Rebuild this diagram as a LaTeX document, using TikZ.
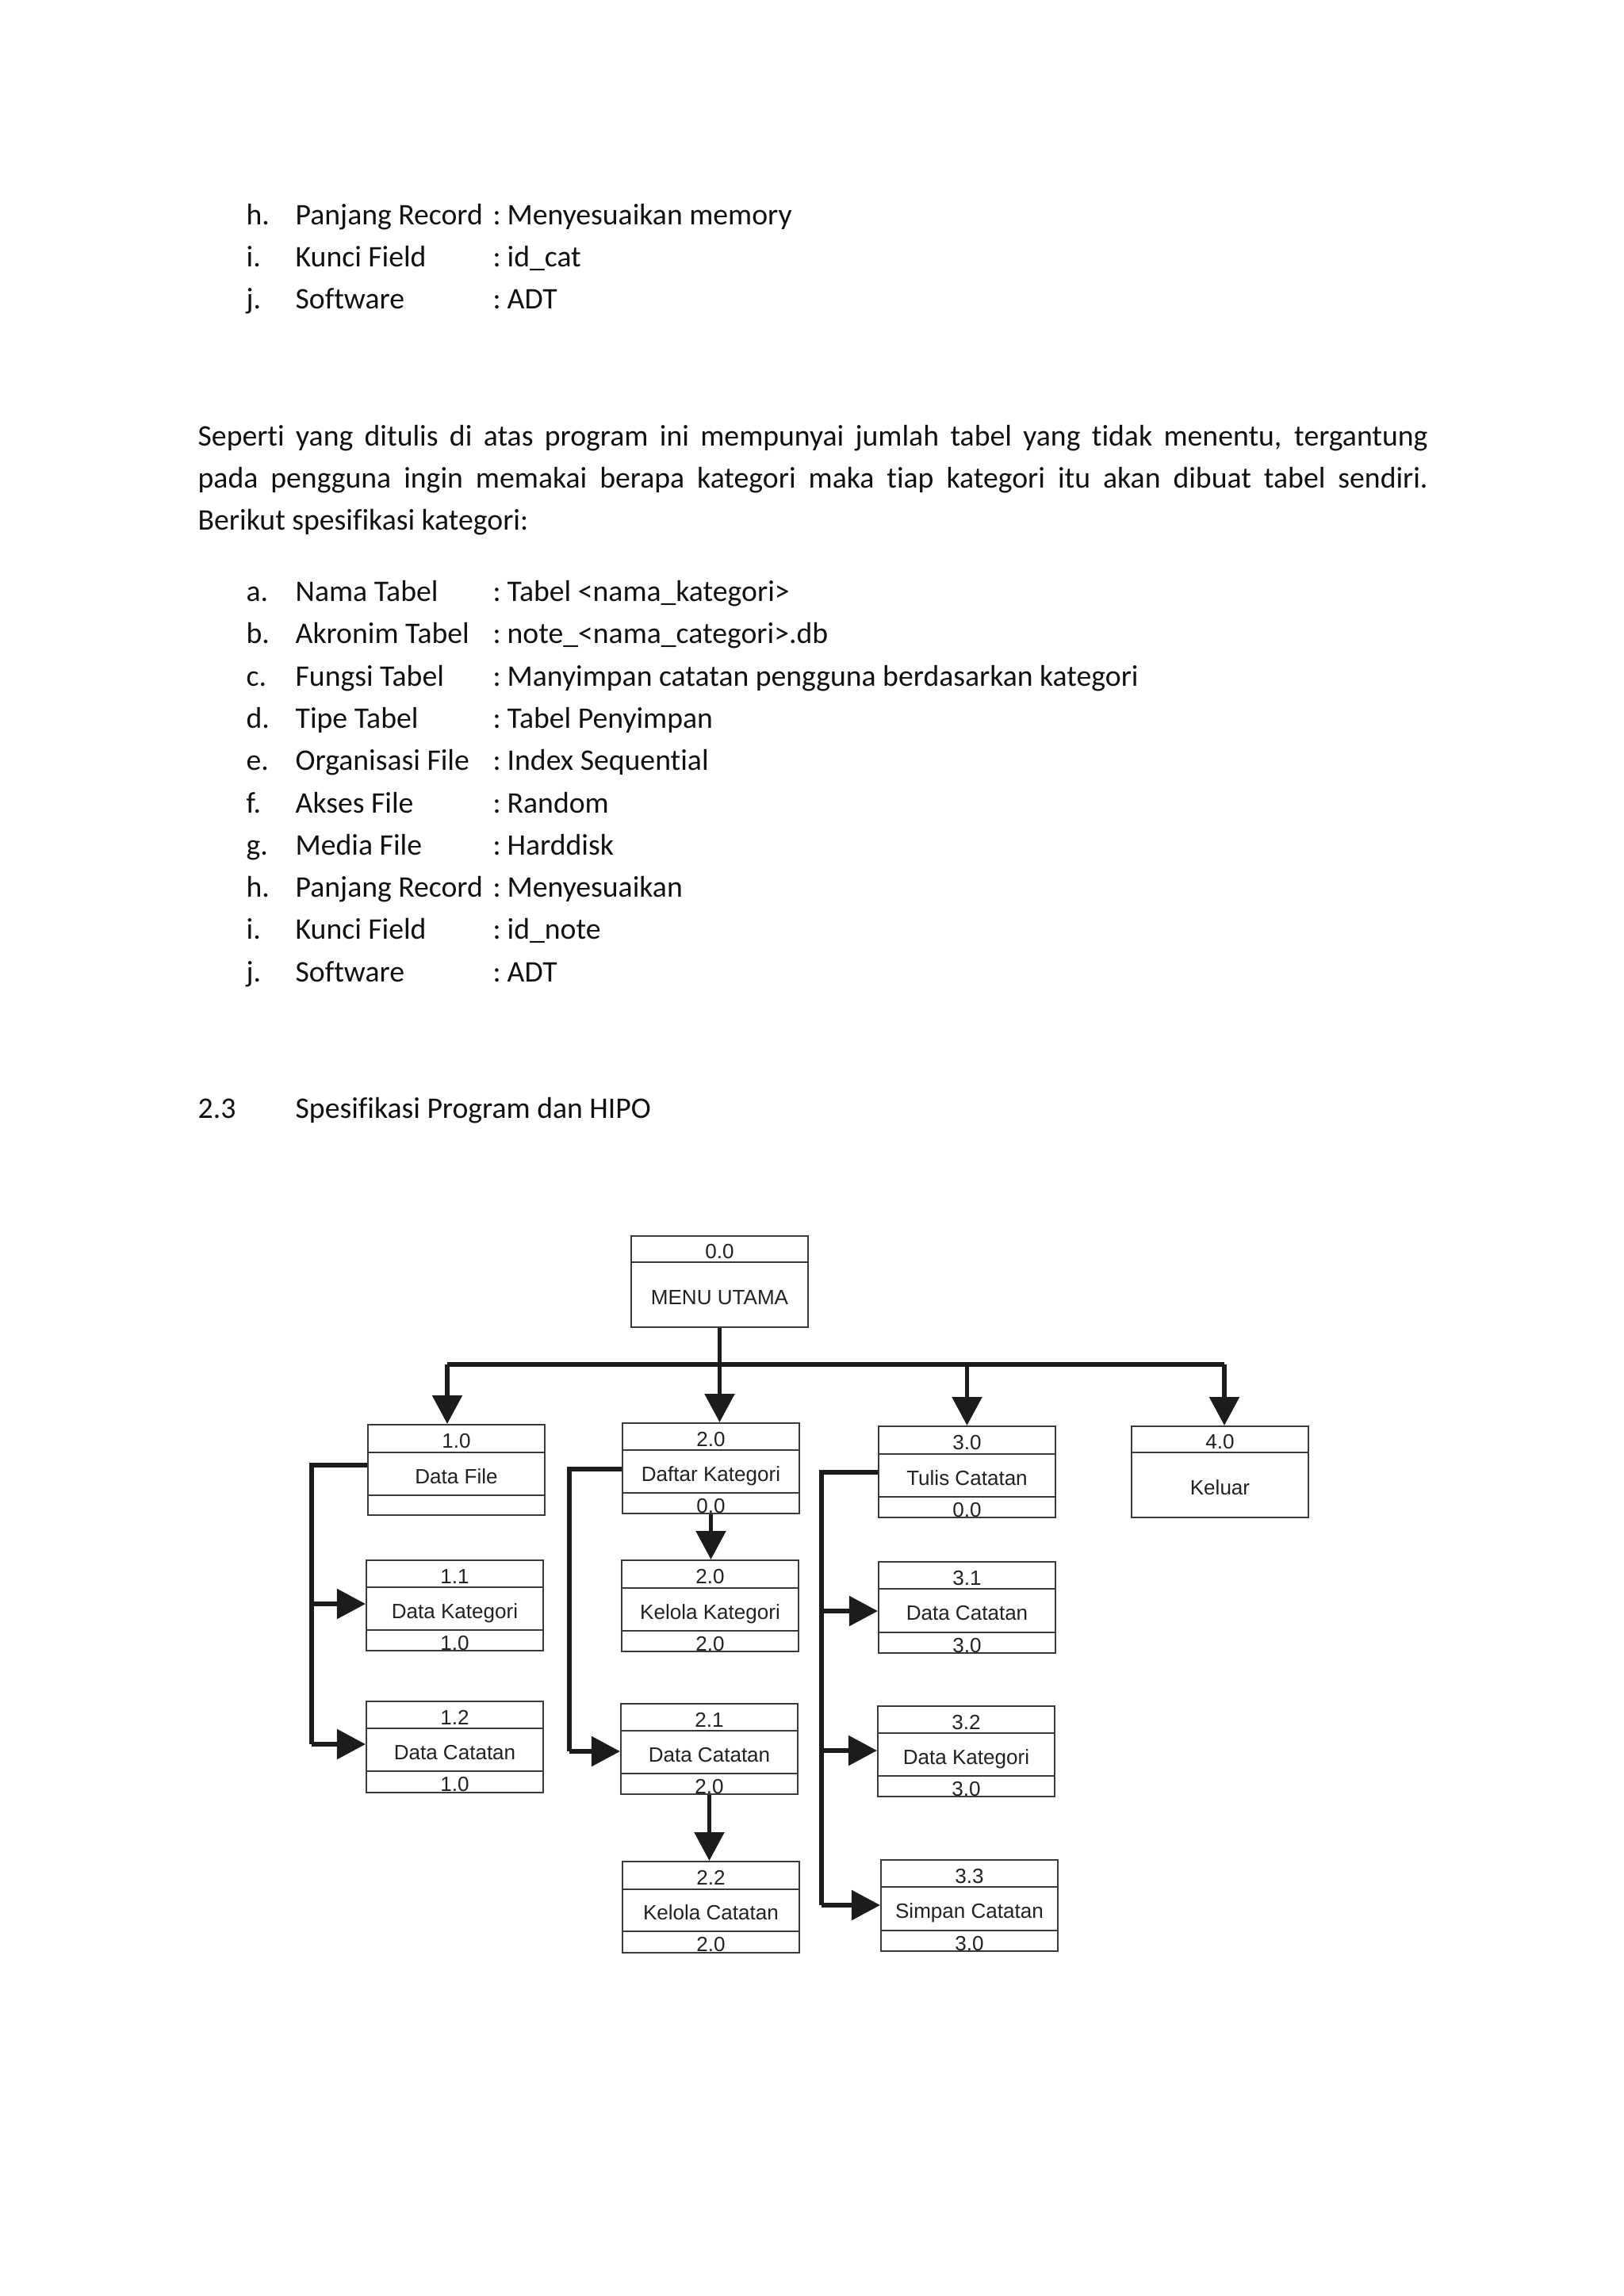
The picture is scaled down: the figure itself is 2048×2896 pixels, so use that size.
\documentclass[tikz,border=0pt]{standalone}
\usepackage{fontspec}
\setmainfont[Ligatures=NoCommon]{Carlito}
\newfontfamily\boxfont{Liberation Sans}
\usetikzlibrary{arrows.meta,fit}
\definecolor{boxgray}{HTML}{3A3A3A}
\definecolor{boxtext}{HTML}{222222}
\definecolor{linecol}{HTML}{1C1C1C}
\definecolor{bodytext}{HTML}{111111}
\newcommand{\cl}{:\kern2.3pt}
\tikzset{
  body/.style={anchor=base west, inner sep=0pt, text=bodytext, font=\fontsize{11}{13}\selectfont},
  hipobox/.style={draw=boxgray, line width=0.6pt, inner sep=0pt, fill=white},
  divline/.style={draw=boxgray, line width=0.6pt},
  htext/.style={font=\boxfont\fontsize{7.6}{9}\selectfont, text=boxtext, inner sep=0pt, text height=0.716em, text depth=0pt},
  conn/.style={draw=linecol, line width=1.6pt},
  arr/.style={conn, -{Triangle[length=10.5pt,width=10.8pt]}}
}
% name, xl, y1, y2, y3, y4, number, title, parent
\newcommand{\hipo}[9]{%
  \node[hipobox, fit={(#2,#3) ({#2+223},#6)}] (#1) {};
  \draw[divline] (#2,#4) -- ({#2+223},#4);
  \draw[divline] (#2,#5) -- ({#2+223},#5);
  \node[htext] (#1-n) at ({#2+111.5},{(#3+#4)/2}) {#7};
  \node[htext] (#1-t) at ({#2+111.5},{(#4+#5)/2}) {#8};
  \node[htext] (#1-p) at ({#2+111.5},{(#5+#6)/2}) {#9};
}
% name, xl, y1, y2, y3, number, title
\newcommand{\hipotwo}[7]{%
  \node[hipobox, fit={(#2,#3) ({#2+223},#5)}] (#1) {};
  \draw[divline] (#2,#4) -- ({#2+223},#4);
  \node[htext] (#1-n) at ({#2+111.5},{(#3+#4)/2}) {#6};
  \node[htext] (#1-t) at ({#2+111.5},{(#4+#5)/2}) {#7};
}
\begin{document}
\begin{tikzpicture}[x=0.29175pt,y=-0.29175pt]
\useasboundingbox (0,0) rectangle (2048,2896);
\fill[white] (0,0) rectangle (2048,2896);

% ---- first list (end) ----
\node[body] (l1h) at (310,283) {h.};
\node[body] (l1ht) at (372,283) {Panjang Record};
\node[body] (l1hv) at (621,283) {\cl Menyesuaikan memory};
\node[body] (l1i) at (310,336) {i.};
\node[body] (l1it) at (372,336) {Kunci Field};
\node[body] (l1iv) at (621,336) {\cl id\_cat};
\node[body] (l1j) at (310,389) {j.};
\node[body] (l1jt) at (372,389) {Software};
\node[body] (l1jv) at (621,389) {\cl ADT};

% ---- paragraph ----
\node[body] (p1) at (249,562) {\makebox[452.5pt][s]{Seperti yang ditulis di atas program ini mempunyai jumlah tabel yang tidak menentu, tergantung}};
\node[body] (p2) at (249,615) {\makebox[452.5pt][s]{pada pengguna ingin memakai berapa kategori maka tiap kategori itu akan dibuat tabel sendiri.}};
\node[body] (p3) at (249,668) {Berikut spesifikasi kategori:};

% ---- second list ----
\node[body] (a) at (310,758) {a.};
\node[body] (at) at (372,758) {Nama Tabel};
\node[body] (av) at (621,758) {\cl Tabel <nama\_kategori>};
\node[body] (b) at (310,811) {b.};
\node[body] (bt) at (372,811) {Akronim Tabel};
\node[body] (bv) at (621,811) {\cl note\_<nama\_categori>.db};
\node[body] (c) at (310,865) {c.};
\node[body] (ct) at (372,865) {Fungsi Tabel};
\node[body] (cv) at (621,865) {\cl Manyimpan catatan pengguna berdasarkan kategori};
\node[body] (d) at (310,918) {d.};
\node[body] (dt) at (372,918) {Tipe Tabel};
\node[body] (dv) at (621,918) {\cl Tabel Penyimpan};
\node[body] (e) at (310,971) {e.};
\node[body] (et) at (372,971) {Organisasi File};
\node[body] (ev) at (621,971) {\cl Index Sequential};
\node[body] (f) at (310,1025) {f.};
\node[body] (ft) at (372,1025) {Akses File};
\node[body] (fv) at (621,1025) {\cl Random};
\node[body] (g) at (310,1078) {g.};
\node[body] (gt) at (372,1078) {Media File};
\node[body] (gv) at (621,1078) {\cl Harddisk};
\node[body] (h) at (310,1131) {h.};
\node[body] (ht) at (372,1131) {Panjang Record};
\node[body] (hv) at (621,1131) {\cl Menyesuaikan};
\node[body] (i) at (310,1184) {i.};
\node[body] (it) at (372,1184) {Kunci Field};
\node[body] (iv) at (621,1184) {\cl id\_note};
\node[body] (j) at (310,1238) {j.};
\node[body] (jt) at (372,1238) {Software};
\node[body] (jv) at (621,1238) {\cl ADT};

% ---- heading ----
\node[body] (s23) at (249,1410) {2.3};
\node[body] (s23t) at (372,1410) {Spesifikasi Program dan HIPO};

% ---- HIPO boxes ----
\hipotwo{m00}{796}{1559}{1592}{1674}{0.0}{MENU UTAMA}
\hipo{b10}{464}{1797}{1832}{1886}{1911}{1.0}{Data File}{}
\hipo{b20}{785}{1795}{1829}{1883}{1909}{2.0}{Daftar Kategori}{0.0}
\hipo{b30}{1108}{1799}{1834}{1888}{1914}{3.0}{Tulis Catatan}{0.0}
\hipotwo{b40}{1427}{1799}{1832}{1914}{4.0}{Keluar}
\hipo{b11}{462}{1968}{2002}{2056}{2082}{1.1}{Data Kategori}{1.0}
\hipo{b12}{462}{2146}{2180}{2234}{2261}{1.2}{Data Catatan}{1.0}
\hipo{b2k}{784}{1968}{2003}{2057}{2083}{2.0}{Kelola Kategori}{2.0}
\hipo{b21}{783}{2149}{2183}{2237}{2263}{2.1}{Data Catatan}{2.0}
\hipo{b22}{785}{2348}{2383}{2436}{2463}{2.2}{Kelola Catatan}{2.0}
\hipo{b31}{1108}{1970}{2004}{2059}{2085}{3.1}{Data Catatan}{3.0}
\hipo{b32}{1107}{2152}{2186}{2240}{2266}{3.2}{Data Kategori}{3.0}
\hipo{b33}{1111}{2346}{2380}{2435}{2461}{3.3}{Simpan Catatan}{3.0}

% ---- connectors: top level ----
\coordinate (busL) at (564,1721);
\coordinate (busR) at (1544,1721);
\draw[conn] (m00.south) -- (m00.south |- busL);
\draw[conn] (busL) -- (busR);
\draw[arr] (busL) -- (busL |- b10.north);
\draw[arr] (m00.south |- busL) -- (m00.south |- b20.north);
\draw[arr] (b30.north |- busL) -- (b30.north);
\draw[arr] (busR) -- (busR |- b40.north);

% ---- branch 1 ----
\coordinate (l1a) at (393,1848);
\coordinate (l1b) at (393,2023);
\coordinate (l1c) at (393,2200);
\draw[conn] (b10.west |- l1a) -- (l1a) -- (l1c);
\draw[arr] (l1b) -- (b11.west |- l1b);
\draw[arr] (l1c) -- (b12.west |- l1c);

% ---- branch 2 ----
\coordinate (l2a) at (718,1853);
\coordinate (l2b) at (718,2209);
\draw[conn] (b20.west |- l2a) -- (l2a) -- (l2b);
\draw[arr] (l2b) -- (b21.west |- l2b);
\draw[arr] (b20.south) -- (b20.south |- b2k.north);
\draw[arr] (b21.south) -- (b21.south |- b22.north);

% ---- branch 3 ----
\coordinate (l3a) at (1036,1857);
\coordinate (l3b) at (1036,2032);
\coordinate (l3c) at (1036,2208);
\coordinate (l3d) at (1036,2403);
\draw[conn] (b30.west |- l3a) -- (l3a) -- (l3d);
\draw[arr] (l3b) -- (b31.west |- l3b);
\draw[arr] (l3c) -- (b32.west |- l3c);
\draw[arr] (l3d) -- (b33.west |- l3d);
\end{tikzpicture}
\end{document}
